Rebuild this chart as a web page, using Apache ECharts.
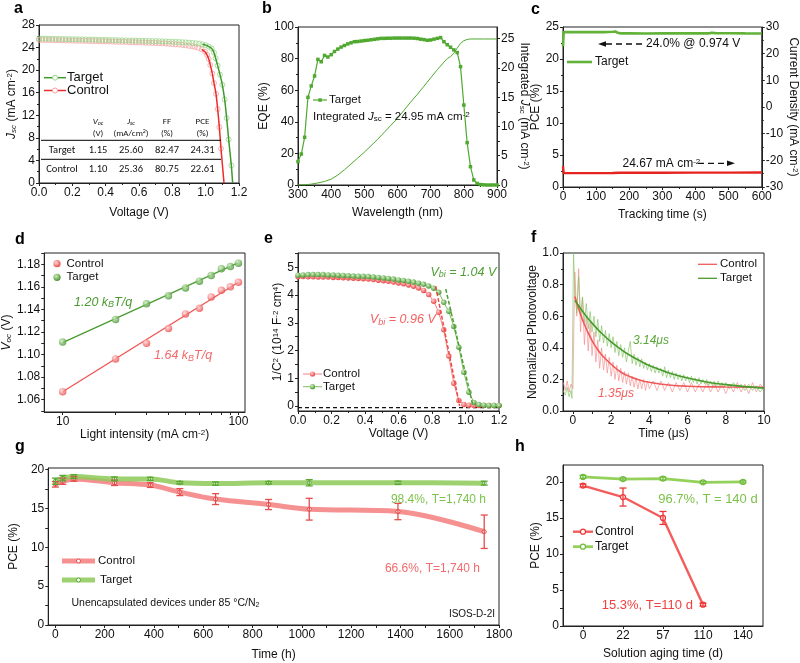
<!DOCTYPE html>
<html><head><meta charset="utf-8">
<script src="https://cdn.jsdelivr.net/npm/echarts@6/dist/echarts.min.js"></script>
<style>html,body{margin:0;padding:0;background:#fff}#c{width:800px;height:663px}</style>
</head><body><div id="c"></div>
<script>
// ================= DATA =================
// (a) J-V curves [V, J]
const jvTarget = [[0,25.60],[0.02,25.59],[0.04,25.58],[0.06,25.57],[0.08,25.56],[0.10,25.55],[0.12,25.53],[0.14,25.52],[0.16,25.51],[0.18,25.50],[0.20,25.49],[0.22,25.47],[0.24,25.46],[0.26,25.45],[0.28,25.44],[0.30,25.42],[0.32,25.41],[0.34,25.40],[0.36,25.38],[0.38,25.37],[0.40,25.36],[0.42,25.34],[0.44,25.33],[0.46,25.32],[0.48,25.30],[0.50,25.29],[0.52,25.27],[0.54,25.26],[0.56,25.25],[0.58,25.23],[0.60,25.22],[0.62,25.20],[0.64,25.19],[0.66,25.17],[0.68,25.15],[0.70,25.14],[0.72,25.12],[0.74,25.10],[0.76,25.08],[0.78,25.06],[0.80,25.04],[0.82,25.01],[0.84,24.98],[0.86,24.95],[0.88,24.92],[0.90,24.88],[0.92,24.83],[0.94,24.77],[0.96,24.69],[0.98,24.58],[1.00,24.43],[1.018,24.18],[1.036,23.85],[1.05,23.1],[1.06,22.1],[1.072,20.8],[1.086,19.2],[1.10,17.4],[1.114,14.8],[1.126,11.5],[1.138,7.7],[1.154,3.1]];
const jvTargetEnd = [1.162, 0];
const jvControl = [[0,25.36],[0.02,25.35],[0.04,25.34],[0.06,25.33],[0.08,25.32],[0.10,25.30],[0.12,25.29],[0.14,25.28],[0.16,25.26],[0.18,25.25],[0.20,25.24],[0.22,25.22],[0.24,25.21],[0.26,25.19],[0.28,25.18],[0.30,25.16],[0.32,25.15],[0.34,25.13],[0.36,25.12],[0.38,25.10],[0.40,25.09],[0.42,25.07],[0.44,25.05],[0.46,25.04],[0.48,25.02],[0.50,25.00],[0.52,24.98],[0.54,24.97],[0.56,24.95],[0.58,24.93],[0.60,24.91],[0.62,24.89],[0.64,24.87],[0.66,24.85],[0.68,24.82],[0.70,24.80],[0.72,24.77],[0.74,24.74],[0.76,24.70],[0.78,24.66],[0.80,24.62],[0.82,24.57],[0.84,24.52],[0.86,24.46],[0.88,24.39],[0.90,24.31],[0.92,24.22],[0.936,24.12],[0.956,23.95],[0.976,23.68],[0.996,23.25],[1.008,22.7],[1.018,22.0],[1.028,20.9],[1.04,19.4],[1.05,17.7],[1.062,15.8],[1.072,13.1],[1.082,9.9],[1.092,6.1]];
const jvControlEnd = [1.11, 0];
const tableHeader1 = ['{i|V}{is|oc}', '{i|J}{is|sc}', 'FF', 'PCE'];
const tableHeader2 = ['(V)', '(mA/cm{p|2})', '(%)', '(%)'];
const tableRows = [['Target','1.15','25.60','82.47','24.31'],['Control','1.10','25.36','80.75','22.61']];

// (b) EQE and integrated Jsc
const eqeWl = [300,310,320,330,340,350,360,370,380,390,400,410,420,430,440,450,460,470,480,490,500,510,520,530,540,550,560,570,580,590,600,610,620,630,640,650,660,670,680,690,700,710,720,730,740,750,760,770,780,790,800,810,820,830,840,850,860,870,880,890,900];
const eqeVal = [14.8,19.6,30.2,55.5,62.7,69,79.5,78,82,81,82.5,84.5,86,87.3,88.3,89.3,90,90.7,90.8,91.1,91.4,91.6,91.9,92.2,92.5,92.8,92.8,92.9,92.9,93,93,93,93,93,93,92.9,92.7,92.3,92,91.6,91.8,92.3,92.8,93.3,90.7,88.8,87.2,85.5,83.8,74.9,50.6,26.8,11.6,3.2,1.0,0.3,0.1,0,0,0,0];
const intJsc = [[300,0],[320,0.03],[340,0.15],[360,0.35],[380,0.6],[400,1.0],[420,1.7],[440,2.6],[460,3.6],[480,4.6],[500,5.6],[520,6.7],[540,7.8],[560,9.0],[580,10.2],[600,11.4],[620,12.8],[640,14.2],[660,15.5],[680,16.9],[700,18.3],[720,19.7],[740,21.0],[750,21.6],[760,21.95],[770,22.5],[780,23.4],[790,24.2],[800,24.65],[810,24.88],[820,24.95],[840,24.95],[860,24.95],[880,24.95],[900,24.95]];

// (c) MPP tracking
const mppPCE = [[0,22.0],[2,24.2],[25,24.2],[50,24.22],[75,24.2],[100,24.22],[125,24.2],[150,24.25],[158,24.3],[165,24.1],[175,24.0],[200,24.0],[250,23.98],[300,24.0],[350,24.0],[400,24.0],[440,24.0],[448,24.1],[460,24.05],[500,24.03],[550,24.0],[600,23.98]];
const mppJ = [[0,-22.2],[2,-24.8],[50,-24.8],[100,-24.78],[150,-24.75],[170,-24.65],[200,-24.65],[300,-24.63],[400,-24.62],[450,-24.6],[500,-24.6],[600,-24.58]];

// (d) Voc vs light intensity
const lightInt = [10,20,30,40,50,60,70,80,90,100];
const vocControl = [1.067,1.096,1.110,1.123,1.136,1.141,1.151,1.157,1.160,1.164];
const vocTarget = [1.111,1.131,1.145,1.152,1.159,1.165,1.170,1.176,1.178,1.181];
const vocFitControl = [[10,1.067],[100,1.164]];
const vocFitTarget = [[10,1.1105],[100,1.1815]];

// (e) Mott-Schottky
const msV = [0,0.03,0.06,0.09,0.12,0.15,0.18,0.21,0.24,0.27,0.30,0.33,0.36,0.39,0.42,0.45,0.48,0.51,0.54,0.57,0.60,0.63,0.66,0.69,0.72,0.75,0.78,0.81,0.84,0.87,0.90,0.93,0.96,0.99,1.02,1.05,1.08,1.11,1.14,1.17,1.20];
const msControl = [4.66,4.67,4.66,4.66,4.65,4.65,4.65,4.64,4.64,4.63,4.62,4.61,4.60,4.59,4.58,4.56,4.54,4.52,4.50,4.47,4.44,4.41,4.37,4.32,4.26,4.17,4.02,3.78,3.38,2.75,1.8,0.82,0.2,0.05,0.03,0.02,0.02,0.02,0.02,0.02,0.02];
const msTarget = [4.72,4.73,4.74,4.74,4.74,4.74,4.73,4.73,4.72,4.71,4.70,4.69,4.68,4.68,4.67,4.65,4.64,4.62,4.60,4.58,4.55,4.53,4.50,4.47,4.43,4.39,4.33,4.25,4.1,3.74,3.42,2.87,2.12,1.22,0.5,0.13,0.05,0.03,0.02,0.02,0.02];
const msTangentControl = [[0.822,4.32],[0.965,0]];
const msTangentTarget = [[0.882,4.22],[1.045,0]];
const msBaseline = [[0,-0.06],[1.2,-0.06]];

// (f) TPV
const tpvControlRaw = [[-0.5,0.18],[-0.4,0.13],[-0.3,0.19],[-0.2,0.12],[-0.1,0.17],[0,0.14],[0.05,0.55],[0.1,0.88],[0.2,0.6],[0.3,0.9],[0.4,0.5],[0.5,0.72],[0.6,0.42],[0.7,0.6],[0.8,0.38],[0.9,0.56],[1.0,0.35],[1.1,0.5],[1.2,0.31],[1.3,0.45],[1.4,0.27],[1.5,0.4],[1.6,0.26],[1.7,0.36],[1.8,0.24],[1.9,0.34],[2.0,0.22],[2.1,0.31],[2.2,0.2],[2.3,0.29],[2.4,0.19],[2.5,0.27],[2.6,0.18],[2.7,0.25],[2.8,0.17],[2.9,0.24],[3.0,0.16],[3.1,0.22],[3.2,0.15],[3.3,0.21],[3.4,0.14],[3.5,0.2],[3.6,0.14],[3.7,0.2],[3.8,0.13],[3.9,0.19],[4.0,0.14],[4.2,0.19],[4.4,0.13],[4.6,0.19],[4.8,0.13],[5.0,0.18],[5.2,0.12],[5.4,0.18],[5.6,0.13],[5.8,0.18],[6.0,0.12],[6.2,0.18],[6.4,0.12],[6.6,0.17],[6.8,0.12],[7.0,0.18],[7.2,0.12],[7.4,0.17],[7.6,0.12],[7.8,0.17],[8.0,0.11],[8.2,0.17],[8.4,0.12],[8.6,0.18],[8.8,0.12],[9.0,0.17],[9.2,0.11],[9.4,0.18],[9.6,0.12],[9.8,0.17],[10.0,0.14]];
const tpvTargetRaw = [[-0.5,0.13],[-0.4,0.1],[-0.3,0.15],[-0.2,0.09],[-0.1,0.13],[-0.05,0.08],[0,0.07],[0.03,1.0],[0.1,0.78],[0.2,0.62],[0.3,0.85],[0.4,0.6],[0.5,0.72],[0.6,0.56],[0.7,0.68],[0.8,0.52],[0.9,0.63],[1.0,0.5],[1.1,0.6],[1.2,0.47],[1.3,0.58],[1.4,0.44],[1.5,0.54],[1.6,0.43],[1.7,0.51],[1.8,0.41],[1.9,0.49],[2.0,0.4],[2.1,0.47],[2.2,0.37],[2.3,0.44],[2.4,0.35],[2.5,0.42],[2.6,0.34],[2.7,0.4],[2.8,0.31],[2.9,0.38],[3.0,0.44],[3.1,0.3],[3.2,0.36],[3.3,0.29],[3.4,0.34],[3.5,0.28],[3.6,0.33],[3.7,0.27],[3.8,0.31],[3.9,0.26],[4.0,0.3],[4.1,0.25],[4.2,0.29],[4.3,0.24],[4.4,0.28],[4.5,0.24],[4.6,0.27],[4.7,0.22],[4.8,0.28],[4.9,0.21],[5.0,0.26],[5.1,0.21],[5.2,0.25],[5.3,0.2],[5.4,0.24],[5.5,0.2],[5.6,0.23],[5.7,0.19],[5.8,0.23],[5.9,0.19],[6.0,0.22],[6.1,0.18],[6.2,0.22],[6.3,0.18],[6.4,0.21],[6.5,0.17],[6.6,0.21],[6.7,0.17],[6.8,0.2],[6.9,0.17],[7.0,0.2],[7.1,0.16],[7.2,0.19],[7.3,0.16],[7.4,0.19],[7.5,0.15],[7.6,0.19],[7.7,0.15],[7.8,0.18],[7.9,0.15],[8.0,0.18],[8.2,0.14],[8.4,0.18],[8.6,0.14],[8.8,0.17],[9.0,0.13],[9.2,0.17],[9.4,0.13],[9.6,0.16],[9.8,0.12],[10.0,0.15]];
const tpvControlFit = [[0.1,0.725],[0.3,0.647],[0.5,0.578],[0.75,0.507],[1,0.446],[1.25,0.397],[1.5,0.356],[2,0.296],[2.5,0.247],[3,0.217],[3.5,0.196],[4,0.182],[5,0.165],[6,0.157],[8,0.152],[10,0.150]];
const tpvTargetFit = [[0.1,0.70],[0.3,0.666],[0.5,0.631],[0.75,0.592],[1,0.556],[1.25,0.523],[1.5,0.492],[2,0.437],[2.5,0.391],[3,0.351],[3.5,0.318],[4,0.288],[4.5,0.264],[5,0.242],[6,0.209],[7,0.184],[8,0.167],[9,0.154],[10,0.145]];

// (g) thermal stability
const gTime = [0,30,75,240,385,505,650,865,1030,1390,1740];
const gControl = [18.1,18.5,18.8,18.3,18.0,17.1,16.2,15.5,14.9,14.6,12.0];
const gControlErr = [0.35,0.4,0.3,0.35,0.3,0.45,0.7,0.65,1.4,1.05,2.15];
const gTarget = [18.5,18.9,19.1,18.8,18.8,18.3,18.2,18.3,18.3,18.3,18.25];
const gTargetErr = [0.4,0.35,0.25,0.25,0.2,0.15,0.2,0.15,0.4,0.2,0.25];

// (h) solution aging
const hCats = ['0','22','57','110','140'];
const hControl = [19.5,17.9,15.0,2.96];
const hControlErr = [0.2,1.25,0.9,0.2];
const hTarget = [20.7,20.4,20.46,19.95,20.0];
const hTargetErr = [0.2,0.15,0.2,0.15,0.15];

// ================= STYLE / BUILD =================
const FONT = 'Liberation Sans, Arial, Helvetica, sans-serif';
const TFONT = 'Carlito, Lato, sans-serif';
const AX = '#222', TX = '#111';
function mkRich(fs, col, it, ff) {
  ff = ff || FONT;
  const st = it ? 'italic' : 'normal';
  return {
    i: {fontStyle:'italic', fontSize:fs, fontFamily:ff, fill:col, color:col},
    n: {fontStyle:'normal', fontSize:fs, fontFamily:ff, fill:col, color:col},
    is: {fontStyle:'italic', fontSize:Math.round(fs*0.7), fontFamily:ff, fill:col, color:col, verticalAlign:'bottom'},
    s: {fontStyle:st, fontSize:Math.round(fs*0.7), fontFamily:ff, fill:col, color:col, verticalAlign:'bottom'},
    p: {fontStyle:st, fontSize:Math.round(fs*0.7), fontFamily:ff, fill:col, color:col, verticalAlign:'top'}
  };
}
const grids = [
  {left:39, top:25, width:200, height:158},
  {left:298, top:27, width:199, height:158},
  {left:563, top:27, width:200, height:160},
  {left:44, top:253, width:201, height:159},
  {left:298, top:253, width:201, height:158},
  {left:563, top:253, width:201, height:158},
  {left:43, top:468, width:456, height:157},
  {left:563, top:465, width:200, height:161}
].map(g => Object.assign(g, {show:true, borderColor:AX, borderWidth:1, backgroundColor:'rgba(0,0,0,0)'}));

const xAxes = [], yAxes = [];
function mkAxis(list, g, o) {
  const a = {
    gridIndex:g, type:o.type || 'value', position:o.pos,
    axisLine:{show:true, onZero:false, lineStyle:{color:AX, width:1}},
    axisTick:{show:true, length:3, inside:false, lineStyle:{color:AX, width:1}},
    axisLabel:{show:true, color:TX, fontSize:o.fs || 12, fontFamily:FONT, margin:o.margin == null ? 4 : o.margin},
    splitLine:{show:false},
    name:o.name || '', nameLocation:'middle', nameGap:o.gap || 20,
    nameTextStyle:{color:TX, fontSize:12, fontFamily:FONT, rich:mkRich(12, TX, false)}
  };
  if (o.type !== 'category') { a.min = o.min; a.max = o.max; }
  if (o.interval != null) { a.interval = o.interval; a.minorTick = {show:true, splitNumber:2, length:2, lineStyle:{color:AX}}; }
  if (o.majors) {
    a.axisLabel.customValues = o.majors;
    a.axisTick.customValues = o.majors.concat(o.minors || []).sort((p, q) => p - q);
  }
  a.axisLabel.formatter = o.fmt || (v => String(v));
  if (o.type === 'category') a.axisLabel.formatter = v => v;
  if (o.nameRotate != null) a.nameRotate = o.nameRotate;
  if (o.data) { a.data = o.data; a.boundaryGap = true; a.axisTick.alignWithLabel = true; }
  if (o.logBase) a.logBase = o.logBase;
  list.push(a);
  return list.length - 1;
}
const f1 = v => v.toFixed(1), f2 = v => v.toFixed(2);
const cmInv2 = ' (mA cm{p|-2})';
// axes
const xa = mkAxis(xAxes, 0, {min:0, max:1.2, interval:0.2, fmt:f1, name:'Voltage (V)', gap:24});
const ya = mkAxis(yAxes, 0, {min:0, max:28, interval:4, name:'{i|J}{is|sc}' + cmInv2, gap:20});
const xb = mkAxis(xAxes, 1, {min:300, max:900, interval:100, name:'Wavelength (nm)', gap:22});
const yb = mkAxis(yAxes, 1, {min:0, max:100, interval:20, name:'EQE (%)', gap:24});
const yb2 = mkAxis(yAxes, 1, {min:0, max:27, majors:[0,5,10,15,20,25], minors:[2.5,7.5,12.5,17.5,22.5], pos:'right', name:'Integrated {i|J}{s|sc}' + cmInv2, gap:11, nameRotate:-90});
const xc = mkAxis(xAxes, 2, {min:0, max:600, interval:100, name:'Tracking time (s)', gap:22});
const yc = mkAxis(yAxes, 2, {min:0, max:25, interval:5, name:'PCE (%)', gap:21});
const yc2 = mkAxis(yAxes, 2, {min:-30, max:30, interval:10, pos:'right', name:'Current Density' + cmInv2, gap:24, nameRotate:-90});
const xd = mkAxis(xAxes, 3, {type:'log', logBase:10, min:7.86, max:109, majors:[10,100], minors:[20,30,40,50,60,70,80,90], fmt:v => String(Math.round(v)), name:'Light intensity' + cmInv2, gap:10});
const yd = mkAxis(yAxes, 3, {min:1.049, max:1.19, majors:[1.06,1.08,1.10,1.12,1.14,1.16,1.18], minors:[1.05,1.07,1.09,1.11,1.13,1.15,1.17,1.19], fmt:f2, name:'{i|V}{is|oc} (V)', gap:30});
const xe = mkAxis(xAxes, 4, {min:0, max:1.2, interval:0.2, fmt:f1, name:'Voltage (V)', gap:10});
const ye = mkAxis(yAxes, 4, {min:-0.18, max:5.52, majors:[0,1,2,3,4,5], minors:[0.5,1.5,2.5,3.5,4.5,5.5], name:'1/C{p|2} (10{p|14} F{p|-2} cm{p|4})', gap:12});
const xf = mkAxis(xAxes, 5, {min:-0.52, max:10, majors:[0,2,4,6,8,10], minors:[1,3,5,7,9], name:'Time (μs)', gap:10});
const yf = mkAxis(yAxes, 5, {min:0, max:1, interval:0.2, fmt:f1, name:'Normalized Photovoltage', gap:22});
const xg = mkAxis(xAxes, 6, {min:-29, max:1800, majors:[0,200,400,600,800,1000,1200,1400,1600,1800], minors:[100,300,500,700,900,1100,1300,1500,1700], name:'Time (h)', gap:24});
const yg = mkAxis(yAxes, 6, {min:0, max:20.2, majors:[0,5,10,15,20], minors:[2.5,7.5,12.5,17.5], name:'PCE (%)', gap:26});
const xh = mkAxis(xAxes, 7, {type:'category', data:hCats, name:'Solution aging time (d)', gap:22});
const yh = mkAxis(yAxes, 7, {min:0, max:22.35, majors:[0,5,10,15,20], minors:[2.5,7.5,12.5,17.5], name:'PCE (%)', gap:20});

function sphere(c1, c2) { return {type:'radial', x:0.38, y:0.35, r:0.7, colorStops:[{offset:0, color:c1}, {offset:1, color:c2}]}; }
function errBars(xi, yi, data, color, capW) {
  return {type:'custom', xAxisIndex:xi, yAxisIndex:yi, data:data, z:5, clip:false, silent:true,
    renderItem: function (params, api) {
      const x = api.value(0), y = api.value(1), e = api.value(2);
      const p1 = api.coord([x, y + e]), p2 = api.coord([x, y - e]);
      const w = capW / 2, st = {stroke:color, lineWidth:1.3};
      return {type:'group', children:[
        {type:'line', shape:{x1:p1[0], y1:p1[1], x2:p2[0], y2:p2[1]}, style:st},
        {type:'line', shape:{x1:p1[0]-w, y1:p1[1], x2:p1[0]+w, y2:p1[1]}, style:st},
        {type:'line', shape:{x1:p2[0]-w, y1:p2[1], x2:p2[0]+w, y2:p2[1]}, style:st}]};
    }};
}
const series = [];
// (a)
const cA = {tL:'#3f9a2c', tM:'#9bd68a', cL:'#ee2a2a', cM:'#f5a3a3'};
series.push({type:'scatter', xAxisIndex:xa, yAxisIndex:ya, data:jvControl, symbol:'circle', symbolSize:5, itemStyle:{color:'rgba(255,255,255,0)', borderColor:cA.cM, borderWidth:1}, z:2});
series.push({type:'scatter', xAxisIndex:xa, yAxisIndex:ya, data:jvTarget, symbol:'circle', symbolSize:5, itemStyle:{color:'rgba(255,255,255,0)', borderColor:cA.tM, borderWidth:1}, z:2});
series.push({type:'line', xAxisIndex:xa, yAxisIndex:ya, data:jvControl.filter(p => p[0] >= 0.97).concat([jvControlEnd]), showSymbol:false, smooth:0.2, lineStyle:{color:cA.cL, width:1.5}, z:3});
series.push({type:'line', xAxisIndex:xa, yAxisIndex:ya, data:jvTarget.filter(p => p[0] >= 0.97).concat([jvTargetEnd]), showSymbol:false, smooth:0.2, lineStyle:{color:cA.tL, width:1.5}, z:3});
// (b)
const gB = '#4fa82f';
series.push({type:'line', xAxisIndex:xb, yAxisIndex:yb, data:eqeWl.map((w, i) => [w, eqeVal[i]]), symbol:'rect', symbolSize:3.5, itemStyle:{color:gB}, lineStyle:{color:gB, width:1.2}});
series.push({type:'line', xAxisIndex:xb, yAxisIndex:yb2, data:intJsc, showSymbol:false, lineStyle:{color:gB, width:1}});
// (c)
series.push({type:'line', xAxisIndex:xc, yAxisIndex:yc, data:mppPCE, showSymbol:false, lineStyle:{color:'#62b23a', width:2.6}});
series.push({type:'line', xAxisIndex:xc, yAxisIndex:yc2, data:mppJ, showSymbol:false, lineStyle:{color:'#e52420', width:2.4}});
// (d)
const rD = '#f05252', gD = '#4a9b2f';
series.push({type:'line', xAxisIndex:xd, yAxisIndex:yd, data:vocFitControl, showSymbol:false, lineStyle:{color:rD, width:1.3}});
series.push({type:'line', xAxisIndex:xd, yAxisIndex:yd, data:vocFitTarget, showSymbol:false, lineStyle:{color:gD, width:1.3}});
series.push({type:'scatter', xAxisIndex:xd, yAxisIndex:yd, data:lightInt.map((x, i) => [x, vocControl[i]]), symbolSize:7.5, itemStyle:{color:sphere('#ffd6d6', '#e84444')}, z:4});
series.push({type:'scatter', xAxisIndex:xd, yAxisIndex:yd, data:lightInt.map((x, i) => [x, vocTarget[i]]), symbolSize:7.5, itemStyle:{color:sphere('#cdeec0', '#3f8f27')}, z:4});
// (e)
const rE = '#f04848', gE = '#4e9e33';
series.push({type:'line', xAxisIndex:xe, yAxisIndex:ye, data:msBaseline, showSymbol:false, lineStyle:{color:'#111', width:1.2, type:[4,3]}});
series.push({type:'line', xAxisIndex:xe, yAxisIndex:ye, data:msV.map((v, i) => [v, msControl[i]]), symbol:'circle', symbolSize:5.5, itemStyle:{color:sphere('#ffd0d0', '#e83a3a')}, lineStyle:{color:'#f58080', width:1}, z:3});
series.push({type:'line', xAxisIndex:xe, yAxisIndex:ye, data:msV.map((v, i) => [v, msTarget[i]]), symbol:'circle', symbolSize:5.5, itemStyle:{color:sphere('#d2f0c4', '#3f922a')}, lineStyle:{color:'#7cc05a', width:1}, z:3});
series.push({type:'line', xAxisIndex:xe, yAxisIndex:ye, data:msTangentControl, showSymbol:false, lineStyle:{color:rE, width:1.5, type:[4,2]}, z:4});
series.push({type:'line', xAxisIndex:xe, yAxisIndex:ye, data:msTangentTarget, showSymbol:false, lineStyle:{color:gE, width:1.5, type:[4,2]}, z:4});
// (f)
series.push({type:'line', xAxisIndex:xf, yAxisIndex:yf, data:tpvControlRaw, showSymbol:false, lineStyle:{color:'#f58c8c', width:0.9, opacity:0.75}, z:2});
series.push({type:'line', xAxisIndex:xf, yAxisIndex:yf, data:tpvTargetRaw, showSymbol:false, lineStyle:{color:'#86c466', width:0.9, opacity:0.75}, z:2});
series.push({type:'line', xAxisIndex:xf, yAxisIndex:yf, data:tpvControlFit, showSymbol:false, smooth:true, lineStyle:{color:'#ee5a5a', width:1.6}, z:3});
series.push({type:'line', xAxisIndex:xf, yAxisIndex:yf, data:tpvTargetFit, showSymbol:false, smooth:true, lineStyle:{color:'#489a2c', width:1.6}, z:3});
// (g)
const rG = '#f37e7e', gG = '#8dca58';
series.push({type:'line', xAxisIndex:xg, yAxisIndex:yg, data:gTime.map((t, i) => [t, gControl[i]]), smooth:0.35, symbol:'circle', symbolSize:4, itemStyle:{color:'#fff', borderColor:'#e54b4b', borderWidth:1}, lineStyle:{color:rG, width:5, opacity:0.85}, z:2});
series.push({type:'line', xAxisIndex:xg, yAxisIndex:yg, data:gTime.map((t, i) => [t, gTarget[i]]), smooth:0.35, symbol:'circle', symbolSize:4, itemStyle:{color:'#fff', borderColor:'#5aa832', borderWidth:1}, lineStyle:{color:gG, width:5, opacity:0.85}, z:2});
series.push(errBars(xg, yg, gTime.map((t, i) => [t, gControl[i], gControlErr[i]]), '#e54b4b', 7));
series.push(errBars(xg, yg, gTime.map((t, i) => [t, gTarget[i], gTargetErr[i]]), '#5aa832', 7));
// (h)
const rH = '#f45c5c', gH = '#93d15b';
series.push({type:'line', xAxisIndex:xh, yAxisIndex:yh, data:hTarget, symbol:'circle', symbolSize:5, itemStyle:{color:'#fff', borderColor:'#6fbb3a', borderWidth:1.2}, lineStyle:{color:gH, width:2.8}, z:2});
series.push({type:'line', xAxisIndex:xh, yAxisIndex:yh, data:hControl, symbol:'circle', symbolSize:5, itemStyle:{color:'#fff', borderColor:'#ee3535', borderWidth:1.2}, lineStyle:{color:rH, width:2.4}, z:3});
series.push(errBars(xh, yh, hControl.map((v, i) => [i, v, hControlErr[i]]), '#ee3535', 7));
series.push(errBars(xh, yh, hTarget.map((v, i) => [i, v, hTargetErr[i]]), '#6fbb3a', 7));

// ================= GRAPHIC TEXT / LEGENDS =================
const G = [];
function T(x, y, text, o) {
  o = o || {};
  const fs = o.fs || 12, col = o.color || TX;
  G.push({type:'text', x:x, y:y, z:100, silent:true, style:{text:text, fill:col, fontSize:fs, fontFamily:o.ff || FONT,
    fontStyle:o.it ? 'italic' : 'normal', fontWeight:o.bold ? 'bold' : 'normal', align:o.align || 'left',
    verticalAlign:o.va || 'middle', rich:mkRich(fs, col, o.it, o.ff)}});
}
function L(x1, y1, x2, y2, col, w, dash, op) { G.push({type:'line', z:100, silent:true, shape:{x1:x1, y1:y1, x2:x2, y2:y2}, style:{stroke:col, lineWidth:w || 1, lineDash:dash || null, opacity:op == null ? 1 : op}}); }
function C(cx, cy, r, fill, stroke, lw) { G.push({type:'circle', z:101, silent:true, shape:{cx:cx, cy:cy, r:r}, style:{fill:fill, stroke:stroke || null, lineWidth:lw || 1}}); }
function P(points, fill) { G.push({type:'polygon', z:101, silent:true, shape:{points:points}, style:{fill:fill}}); }

// panel letters
[['a',14,9],['b',262,9],['c',531,10],['d',15,240],['e',264,239],['f',531,238],['g',15,447],['h',515,447]].forEach(p => T(p[1], p[2], p[0], {fs:16, bold:true, color:'#000'}));

// (a) legend + table
L(44, 77.7, 66, 77.7, cA.tL, 1.5); C(55, 77.7, 2.5, '#fff', cA.tM); T(67, 77.7, 'Target', {fs:13});
L(44, 90.5, 66, 90.5, cA.cL, 1.5); C(55, 90.5, 2.5, '#fff', cA.cM); T(67, 90.5, 'Control', {fs:13});
const colX = [98, 131, 167, 202.5];
tableHeader1.forEach((t, i) => T(colX[i], 121.7, t, {fs:9, ff:TFONT, align:'center'}));
tableHeader2.forEach((t, i) => T(colX[i], 133.3, t, {fs:9, ff:TFONT, align:'center'}));
L(41, 140.3, 221, 140.3, '#000', 1);
L(41, 159.3, 221, 159.3, '#000', 1);
tableRows.forEach((r, k) => {
  const y = k === 0 ? 150.7 : 169.5;
  T(62, y, r[0], {fs:10.5, ff:TFONT, align:'center'});
  for (let i = 1; i < 5; i++) T(colX[i-1], y, r[i], {fs:10.5, ff:TFONT, align:'center'});
});

// (b)
L(313, 100, 327, 100, gB, 1.2); G.push({type:'rect', z:101, silent:true, shape:{x:318.3, y:98.3, width:3.5, height:3.5}, style:{fill:gB}});
T(329, 100, 'Target', {fs:11.5});
T(313, 117, 'Integrated {i|J}{s|sc} = 24.95 mA cm{p|-2}', {fs:11.5});

// (c)
L(567, 62, 592, 62, '#62b23a', 2.6); T(595, 62, 'Target', {fs:12});
P([[598, 44], [606, 41.3], [606, 46.7]], '#111'); L(606, 44, 642, 44, '#111', 1.3, [6, 4]);
T(646, 44, '24.0% @ 0.974 V', {fs:12});
T(622.5, 163.3, '24.67 mA cm{p|-2}', {fs:12});
L(698, 163.3, 727, 163.3, '#111', 1.3, [6, 4]); P([[735, 163.3], [727, 160.6], [727, 166]], '#111');

// (d)
C(57, 263.7, 3.6, sphere('#ffd6d6', '#e84444')); T(66.5, 263.7, 'Control', {fs:11.5});
C(57, 277.3, 3.6, sphere('#cdeec0', '#3f8f27')); T(66.5, 277.3, 'Target', {fs:11.5});
T(74, 302.7, '1.20 k{s|B}T/q', {fs:12.5, it:true, color:gD});
T(154, 356, '1.64 k{s|B}T/q', {fs:12.5, it:true, color:'#f26a6a'});

// (e)
L(303, 374, 322, 374, '#f58080', 1); C(312.5, 374, 2.6, sphere('#ffd0d0', '#e83a3a')); T(323, 374, 'Control', {fs:11.5});
L(303, 386.7, 322, 386.7, '#7cc05a', 1); C(312.5, 386.7, 2.6, sphere('#d2f0c4', '#3f922a')); T(323, 386.7, 'Target', {fs:11.5});
T(430.5, 272.7, 'V{s|bi} = 1.04 V', {fs:12.5, it:true, color:gE});
T(370, 320, 'V{s|bi} = 0.96 V', {fs:12.5, it:true, color:'#f26060'});

// (f)
L(698, 264.3, 717, 264.3, '#ee5a5a', 1.3); T(720, 264.3, 'Control', {fs:11.5});
L(698, 278.3, 717, 278.3, '#489a2c', 1.3); T(720, 278.3, 'Target', {fs:11.5});
T(633, 340.7, '3.14μs', {fs:12, it:true, color:'#5aa83a'});
T(598, 394, '1.35μs', {fs:12, it:true, color:'#f26060'});

// (g)
L(62, 561, 95, 561, rG, 5, null, 0.85); C(78.5, 561, 2, '#fff', '#e54b4b'); T(98, 561, 'Control', {fs:11.5});
L(62, 580, 95, 580, gG, 5, null, 0.85); C(78.5, 580, 2, '#fff', '#5aa832'); T(100, 580, 'Target', {fs:11.5});
T(486, 499.3, '98.4%, T=1,740 h', {fs:12, align:'right', color:'#7cc24a'});
T(480, 568.3, '66.6%, T=1,740 h', {fs:12, align:'right', color:'#f26a6a'});
T(71.5, 603.3, 'Unencapsulated devices under 85 °C/N{s|2}', {fs:10.5});
T(495, 614.3, 'ISOS-D-2I', {fs:10, align:'right'});

// (h)
L(573, 531.7, 593, 531.7, rH, 2.4); C(583, 531.7, 2.5, '#fff', '#ee3535', 1.2); T(595, 531.7, 'Control', {fs:12});
L(573, 546.7, 593, 546.7, gH, 2.8); C(583, 546.7, 2.5, '#fff', '#6fbb3a', 1.2); T(595, 546.7, 'Target', {fs:12});
T(658.3, 499, '96.7%, T = 140 d', {fs:13, color:'#7cc24a'});
T(601.7, 605, '15.3%, T=110 d', {fs:13, color:'#f04040'});

const chart = echarts.init(document.getElementById('c'), null, {renderer:'canvas'});
chart.setOption({
  animation:false, backgroundColor:'#fff',
  textStyle:{fontFamily:FONT},
  grid:grids, xAxis:xAxes, yAxis:yAxes, series:series,
  graphic:{elements:G}
});
</script></body></html>
